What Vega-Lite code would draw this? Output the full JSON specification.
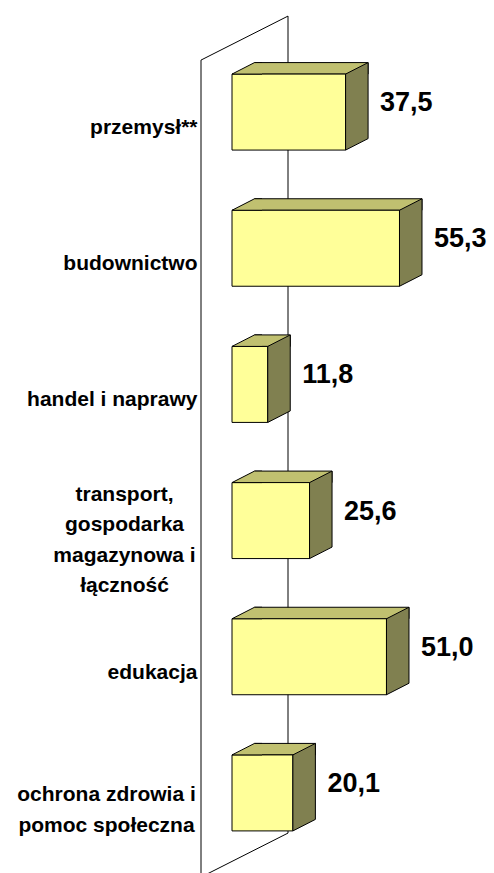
{
  "$schema": "https://vega.github.io/schema/vega-lite/v6.json",
  "width": 262,
  "height": 817,
  "autosize": {"type": "none"},
  "padding": {"left": 232, "top": 44, "right": 0, "bottom": 12},
  "background": "white",
  "config": {
    "view": {"stroke": null},
    "font": "Liberation Sans",
    "locale": {"number": {"decimal": ",", "thousands": " ", "grouping": [3], "currency": ["", " zł"]}}
  },
  "data": {"values": [
    {"branch": "przemysł**", "value": 37.5},
    {"branch": "budownictwo", "value": 55.3},
    {"branch": "handel i naprawy", "value": 11.8},
    {"branch": "transport, gospodarka magazynowa i łączność", "value": 25.6},
    {"branch": "edukacja", "value": 51.0},
    {"branch": "ochrona zdrowia i pomoc społeczna", "value": 20.1}
  ]},
  "encoding": {
    "y": {
      "field": "branch", "type": "nominal", "sort": null,
      "scale": {"domain": ["przemysł**", "budownictwo", "handel i naprawy", "transport, gospodarka magazynowa i łączność", "edukacja", "ochrona zdrowia i pomoc społeczna"], "paddingInner": 0.442, "paddingOuter": 0.221},
      "axis": {
        "title": null, "domain": false, "ticks": false, "grid": false,
        "labelFont": "Liberation Sans", "labelFontSize": 21, "labelFontWeight": "bold",
        "labelColor": "black",
        "labelPadding": {"condition": [
          {"test": "datum.value == 'transport, gospodarka magazynowa i łączność'", "value": 108},
          {"test": "datum.value == 'ochrona zdrowia i pomoc społeczna'", "value": 126}
        ], "value": 35},
        "labelOffset": {"condition": [
          {"test": "datum.value == 'transport, gospodarka magazynowa i łączność'", "value": -26},
          {"test": "datum.value == 'ochrona zdrowia i pomoc społeczna'", "value": 2.5}
        ], "value": 16},
        "labelAlign": {"condition": {"test": "datum.value == 'transport, gospodarka magazynowa i łączność' || datum.value == 'ochrona zdrowia i pomoc społeczna'", "value": "center"}, "value": "right"},
        "labelLineHeight": 30.5, "labelBaseline": "middle",
        "labelLimit": 300, "labelOverlap": false, "labelBound": false,
        "labelExpr": "datum.value == 'transport, gospodarka magazynowa i łączność' ? ['transport,', 'gospodarka', 'magazynowa i', 'łączność'] : datum.value == 'ochrona zdrowia i pomoc społeczna' ? ['ochrona zdrowia i', 'pomoc społeczna'] : datum.value"
      }
    },
    "x": {"field": "value", "type": "quantitative", "scale": {"domain": [0, 86.5], "nice": false, "zero": true}, "axis": null}
  },
  "layer": [
    {
      "transform": [{"filter": "datum.branch == 'przemysł**'"}],
      "mark": {"type": "point", "shape": "M-31,765 L-31,-52 L56,-96 L56,721 L-31,765", "size": 4, "filled": false, "fill": null, "stroke": "black", "strokeWidth": 1, "opacity": 1},
      "encoding": {
        "x": {"datum": 0, "type": "quantitative"}
      }
    },
    {
      "mark": {"type": "bar", "fill": "#C0C070", "stroke": "black", "strokeWidth": 1, "height": 11.5, "xOffset": 22.5, "x2Offset": 22.5, "yOffset": -43.75},
      "encoding": {
        "x2": {"datum": 0}
      }
    },
    {
      "mark": {"type": "bar", "fill": "#FFFF99", "stroke": "black", "strokeWidth": 1}
    },
    {
      "mark": {"type": "point", "shape": "M30,-38 L0,-38 L22.5,-49.5 L30,-49.5", "size": 4, "filled": true, "fill": "#C0C070", "stroke": "black", "strokeWidth": 1, "opacity": 1},
      "encoding": {
        "x": {"datum": 0, "type": "quantitative"}
      }
    },
    {
      "mark": {"type": "point", "shape": "M0,-38 L22.5,-49.5 L22.5,26.5 L0,38 Z", "size": 4, "filled": true, "fill": "#808050", "stroke": "black", "strokeWidth": 1, "opacity": 1}
    },
    {
      "mark": {"type": "text", "align": "left", "baseline": "middle", "dx": 34.5, "dy": -9, "font": "Liberation Sans", "fontSize": 27, "fontWeight": "bold", "color": "black"},
      "encoding": {
        "text": {"field": "value", "type": "quantitative", "format": ".1f"}
      }
    }
  ]
}
